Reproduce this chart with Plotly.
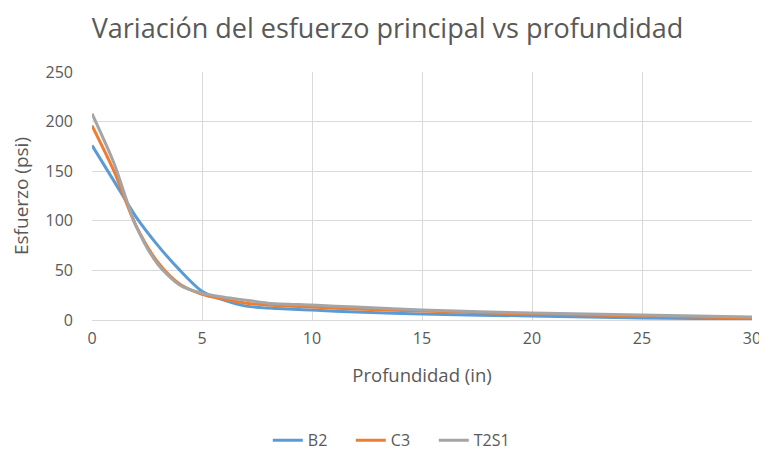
import plotly.graph_objects as go

depth = [0, 1, 2, 3, 4, 5, 6, 7, 8, 10, 12, 15, 20, 25, 30]
b2 = [176, 140, 104, 75, 50, 29, 20, 14, 12, 10, 8, 6, 4, 2, 1]
c3 = [196, 150, 95, 58, 36, 26, 21, 17, 15, 13, 11, 9, 6, 4, 2]
t2s1 = [208, 158, 95, 56, 35, 27, 23, 20, 17, 15, 13, 10, 7, 5, 3]

series = [("B2", b2, "#5B9BD5"), ("C3", c3, "#ED7D31"), ("T2S1", t2s1, "#A5A5A5")]

fig = go.Figure()
for name, vals, col in series:
    fig.add_trace(go.Scatter(x=depth, y=vals, name=name, mode="lines",
                             line=dict(color=col, width=3, shape="spline", smoothing=0.8)))

grey = "#595959"
fig.update_layout(
    width=759, height=462,
    paper_bgcolor="white", plot_bgcolor="white",
    font=dict(family="Open Sans, Calibri, sans-serif", color=grey, size=15),
    title=dict(text="Variación del esfuerzo principal vs profundidad", x=0.5, xanchor="center",
               y=0.955, yanchor="middle", font=dict(size=27, color=grey)),
    margin=dict(l=84, r=15, t=64, b=143),
    legend=dict(orientation="h", x=0.455, xanchor="center", y=-0.485, yanchor="middle",
                entrywidth=38, entrywidthmode="pixels",
                font=dict(size=16, color=grey)),
    xaxis=dict(range=[0, 30], dtick=5, showgrid=True, gridcolor="#D9D9D9", gridwidth=1,
               zeroline=False, showline=True, linecolor="#D9D9D9", automargin=False,
               ticklabelstandoff=4,
               title=dict(text="Profundidad (in)", font=dict(size=18.5, color=grey), standoff=20),
               tickfont=dict(size=16, color=grey)),
    yaxis=dict(range=[0, 250], dtick=50, showgrid=True, gridcolor="#D9D9D9", gridwidth=1,
               zeroline=False, showline=False, automargin=False, ticklabelstandoff=18,
               title=dict(text="Esfuerzo (psi)", font=dict(size=19, color=grey), standoff=14),
               tickfont=dict(size=16, color=grey)),
)
fig.write_html("out.html")
